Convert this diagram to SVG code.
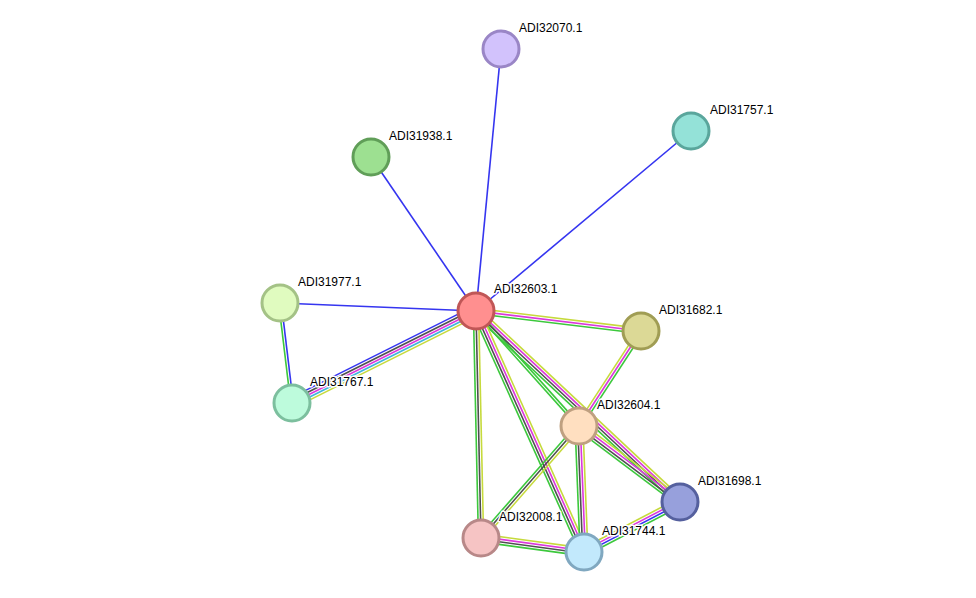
<svg xmlns="http://www.w3.org/2000/svg" width="976" height="598" viewBox="0 0 976 598">
<style>
  line { stroke-width: 1.6; fill: none; }
  .b { stroke: #3535f0; }
  .g { stroke: #3cc83c; }
  .y { stroke: #c6da3c; }
  .m { stroke: #dc37dc; }
  .k { stroke: #4f4f4f; }
  .c { stroke: #3cb4dc; }
  circle { stroke-width: 3; }
  text { font-family: "Liberation Sans", Arial, sans-serif; font-size: 12px; fill: #000; stroke: #fff; stroke-width: 3px; stroke-linejoin: round; paint-order: stroke; }
</style>
<rect width="976" height="598" fill="#fff"/>
<g id="connectors">
  <line class="b" x1="476" y1="311" x2="501" y2="49"/>
  <line class="b" x1="476" y1="311" x2="691" y2="131"/>
  <line class="b" x1="476" y1="311" x2="371" y2="157"/>
  <line class="b" x1="476" y1="311" x2="280" y2="303"/>
  <g transform="rotate(83.16 280 303)">
    <line class="g" x1="280" y1="304.3" x2="380.7" y2="304.3"/>
    <line class="b" x1="280" y1="301.7" x2="380.7" y2="301.7"/>
  </g>
  <g transform="rotate(-26.57 292 403)">
    <line class="b" x1="292" y1="397.8" x2="497.7" y2="397.8"/>
    <line class="k" x1="292" y1="400.4" x2="497.7" y2="400.4"/>
    <line class="m" x1="292" y1="403" x2="497.7" y2="403"/>
    <line class="c" x1="292" y1="405.6" x2="497.7" y2="405.6"/>
    <line class="y" x1="292" y1="408.2" x2="497.7" y2="408.2"/>
  </g>
  <g transform="rotate(6.91 476 311)">
    <line class="y" x1="476" y1="308.4" x2="642.2" y2="308.4"/>
    <line class="m" x1="476" y1="311" x2="642.2" y2="311"/>
    <line class="g" x1="476" y1="313.6" x2="642.2" y2="313.6"/>
  </g>
  <g transform="rotate(-56.87 579 426)">
    <line class="y" x1="579" y1="423.4" x2="692.4" y2="423.4"/>
    <line class="m" x1="579" y1="426" x2="692.4" y2="426"/>
    <line class="g" x1="579" y1="428.6" x2="692.4" y2="428.6"/>
  </g>
  <g transform="rotate(48.15 476 311)">
    <line class="g" x1="476" y1="309.7" x2="630.4" y2="309.7"/>
    <line class="g" x1="476" y1="312.3" x2="630.4" y2="312.3"/>
  </g>
  <g transform="rotate(43.12 476 311)">
    <line class="y" x1="476" y1="307.1" x2="755.5" y2="307.1"/>
    <line class="m" x1="476" y1="309.7" x2="755.5" y2="309.7"/>
    <line class="k" x1="476" y1="312.3" x2="755.5" y2="312.3"/>
    <line class="g" x1="476" y1="314.9" x2="755.5" y2="314.9"/>
  </g>
  <g transform="rotate(65.86 476 311)">
    <line class="y" x1="476" y1="307.1" x2="740.1" y2="307.1"/>
    <line class="m" x1="476" y1="309.7" x2="740.1" y2="309.7"/>
    <line class="k" x1="476" y1="312.3" x2="740.1" y2="312.3"/>
    <line class="g" x1="476" y1="314.9" x2="740.1" y2="314.9"/>
  </g>
  <g transform="rotate(88.74 476 311)">
    <line class="y" x1="476" y1="308.4" x2="703.1" y2="308.4"/>
    <line class="k" x1="476" y1="311" x2="703.1" y2="311"/>
    <line class="g" x1="476" y1="313.6" x2="703.1" y2="313.6"/>
  </g>
  <g transform="rotate(-48.81 481 538)">
    <line class="g" x1="481" y1="535.4" x2="629.8" y2="535.4"/>
    <line class="k" x1="481" y1="538" x2="629.8" y2="538"/>
    <line class="y" x1="481" y1="540.6" x2="629.8" y2="540.6"/>
  </g>
  <g transform="rotate(87.73 579 426)">
    <line class="y" x1="579" y1="422.1" x2="705.1" y2="422.1"/>
    <line class="m" x1="579" y1="424.7" x2="705.1" y2="424.7"/>
    <line class="k" x1="579" y1="427.3" x2="705.1" y2="427.3"/>
    <line class="g" x1="579" y1="429.9" x2="705.1" y2="429.9"/>
  </g>
  <g transform="rotate(36.96 579 426)">
    <line class="y" x1="579" y1="422.1" x2="705.4" y2="422.1"/>
    <line class="m" x1="579" y1="424.7" x2="705.4" y2="424.7"/>
    <line class="k" x1="579" y1="427.3" x2="705.4" y2="427.3"/>
    <line class="g" x1="579" y1="429.9" x2="705.4" y2="429.9"/>
  </g>
  <g transform="rotate(7.74 481 538)">
    <line class="y" x1="481" y1="534.1" x2="584.9" y2="534.1"/>
    <line class="m" x1="481" y1="536.7" x2="584.9" y2="536.7"/>
    <line class="k" x1="481" y1="539.3" x2="584.9" y2="539.3"/>
    <line class="g" x1="481" y1="541.9" x2="584.9" y2="541.9"/>
  </g>
  <g transform="rotate(-27.51 584 552)">
    <line class="y" x1="584" y1="548.1" x2="692.2" y2="548.1"/>
    <line class="m" x1="584" y1="550.7" x2="692.2" y2="550.7"/>
    <line class="b" x1="584" y1="553.3" x2="692.2" y2="553.3"/>
    <line class="g" x1="584" y1="555.9" x2="692.2" y2="555.9"/>
  </g>
</g>
<g id="ADI32070.1"><circle cx="501" cy="49" r="18" fill="#d2c2fc" stroke="#9a86c6"/><text x="519" y="32">ADI32070.1</text></g>
<g id="ADI31757.1"><circle cx="691" cy="131" r="18" fill="#94e2d8" stroke="#5aa69c"/><text x="710" y="114">ADI31757.1</text></g>
<g id="ADI31938.1"><circle cx="371" cy="157" r="18" fill="#9de091" stroke="#609e58"/><text x="389" y="140">ADI31938.1</text></g>
<g id="ADI31977.1"><circle cx="280" cy="303" r="18" fill="#e0fbbf" stroke="#a4c286"/><text x="298" y="286">ADI31977.1</text></g>
<g id="ADI32603.1"><circle cx="476" cy="311" r="18" fill="#ff8f8f" stroke="#c05656"/><text x="494" y="293">ADI32603.1</text></g>
<g id="ADI31682.1"><circle cx="641" cy="331" r="18" fill="#dcd996" stroke="#a09d54"/><text x="659" y="314">ADI31682.1</text></g>
<g id="ADI31767.1"><circle cx="292" cy="403" r="18" fill="#bdfbdc" stroke="#7cbf9e"/><text x="310" y="386">ADI31767.1</text></g>
<g id="ADI32604.1"><circle cx="579" cy="426" r="18" fill="#ffdfc0" stroke="#bfa080"/><text x="597" y="409">ADI32604.1</text></g>
<g id="ADI31698.1"><circle cx="680" cy="502" r="18" fill="#97a0dc" stroke="#55609e"/><text x="698" y="485">ADI31698.1</text></g>
<g id="ADI32008.1"><circle cx="481" cy="538" r="18" fill="#f6c4c4" stroke="#b88888"/><text x="499" y="521">ADI32008.1</text></g>
<g id="ADI31744.1"><circle cx="584" cy="552" r="18" fill="#c2e9fc" stroke="#80a8c0"/><text x="602" y="535">ADI31744.1</text></g>
</svg>
